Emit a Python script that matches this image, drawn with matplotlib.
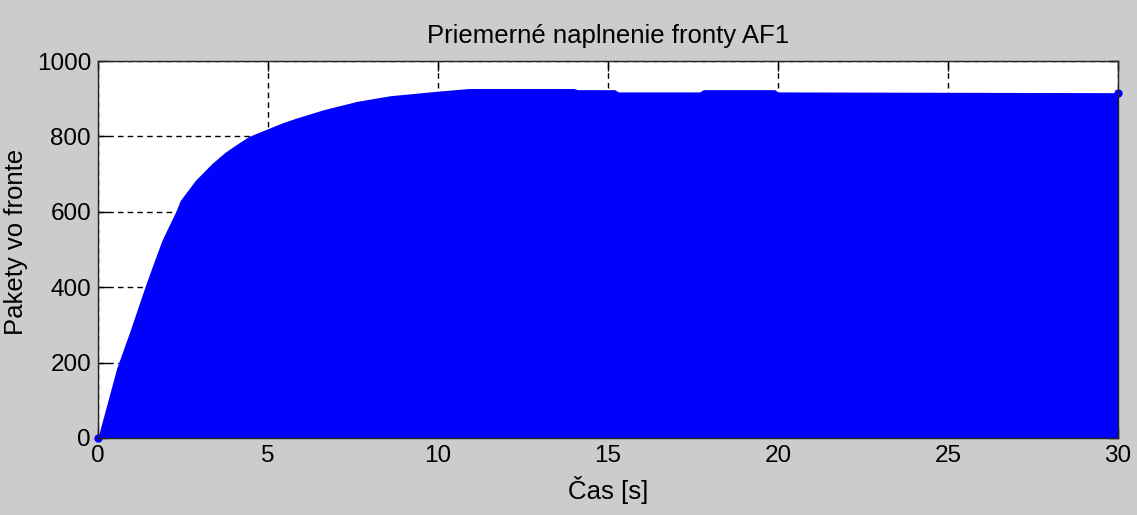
import matplotlib
matplotlib.use('Agg')
import matplotlib.pyplot as plt

# Data
time_s = [0.0, 0.07, 0.55, 0.95, 1.39, 1.63, 1.88, 2.07, 2.29, 2.42, 2.86, 3.35,
          3.74, 4.13, 4.44, 5.42, 5.81, 6.64, 7.62, 8.6, 10.0, 10.9, 14.0, 14.1,
          15.2, 15.3, 17.7, 17.8, 19.9, 20.0, 30.0]
packets = [0, 25, 185, 286, 403, 463, 524, 560, 601, 630, 683, 728,
           758, 782, 800, 836, 848, 871, 893, 908, 920, 927, 927, 924,
           924, 918, 918, 924, 924, 918, 916]

x_ticks = [0, 5, 10, 15, 20, 25, 30]
y_ticks = [0, 200, 400, 600, 800, 1000]

title = "Priemerné naplnenie fronty AF1"
xlabel = "Čas [s]"
ylabel = "Pakety vo fronte"

plt.rcParams['font.family'] = ['Liberation Sans', 'DejaVu Sans']

fig = plt.figure(figsize=(11.37, 5.15), dpi=100, facecolor='#cccccc')
ax = fig.add_axes([98/1137, 1 - 438/515, 1020/1137, 377/515])
ax.set_facecolor('white')

ax.fill_between(time_s, packets, 0, color='#0000ff', lw=0, zorder=2)
ax.plot([time_s[0], time_s[-1]], [packets[0], packets[-1]], 'o', ms=5,
        color='#0000ff', clip_on=False, zorder=3)

ax.set_xlim(0, 30)
ax.set_ylim(0, 1000)
ax.set_xticks(x_ticks)
ax.set_yticks(y_ticks)
ax.grid(True, color='black', linestyle=(0, (4, 3)), linewidth=1.0, zorder=1)
ax.set_axisbelow(True)
ax.tick_params(direction='in', length=7, width=1, top=True, right=True,
               labelsize=17.5, pad=5, colors='black')
for s in ax.spines.values():
    s.set_linewidth(1.0)
    s.set_color('#222222')
    s.set_zorder(4)

ax.set_title(title, fontsize=18.5, pad=13)
ax.set_xlabel(xlabel, fontsize=18.5)
ax.set_ylabel(ylabel, fontsize=18.5)
ax.xaxis.set_label_coords(0.5, -0.10)
ax.yaxis.set_label_coords(-0.069, 0.521)

fig.savefig('out.png', dpi=100, facecolor=fig.get_facecolor())
